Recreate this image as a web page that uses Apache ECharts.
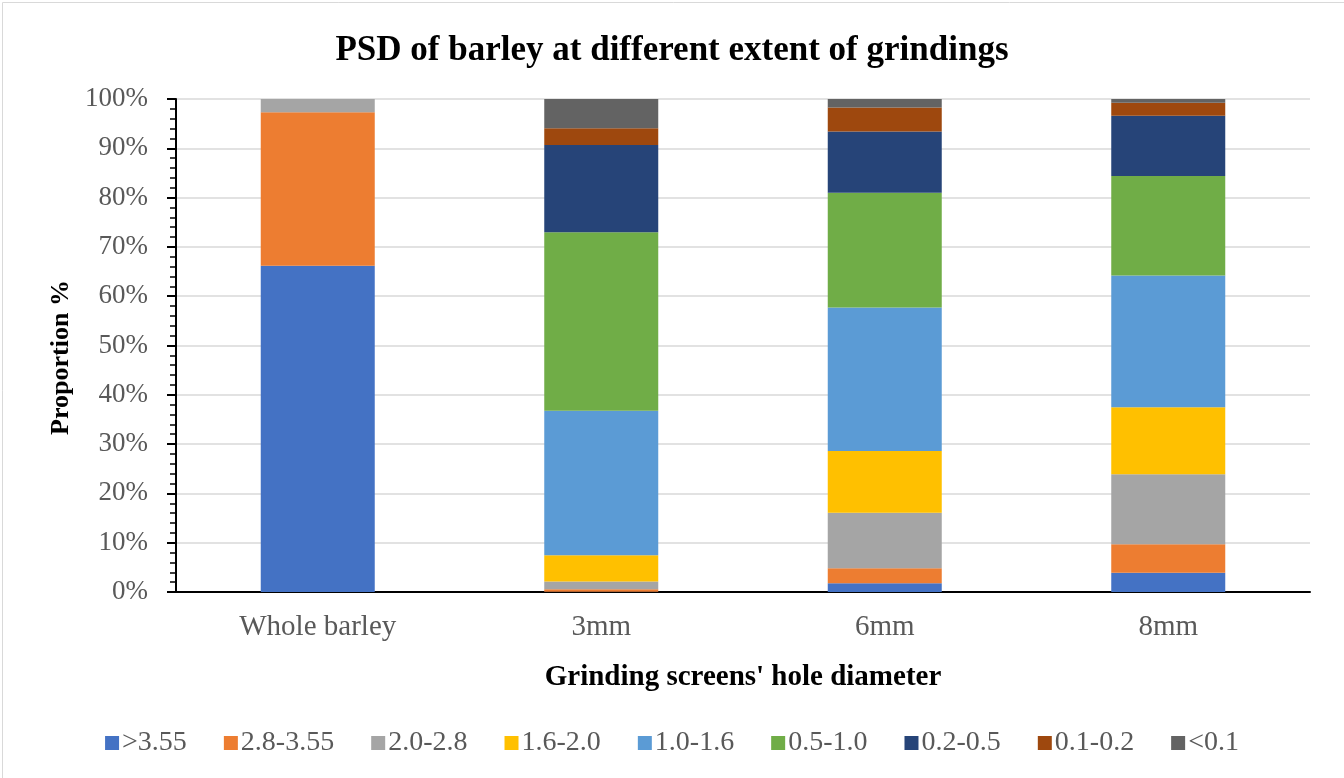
<!DOCTYPE html>
<html>
<head>
<meta charset="utf-8">
<script src="https://cdn.jsdelivr.net/npm/echarts@6/dist/echarts.min.js"></script>
<style>
html,body{margin:0;padding:0;background:#fff;}
#c{width:1344px;height:778px;}
</style>
</head>
<body>
<div id="c"></div>
<script>
const categories = ['Whole barley', '3mm', '6mm', '8mm'];
const seriesNames = ['>3.55', '2.8-3.55', '2.0-2.8', '1.6-2.0', '1.0-1.6', '0.5-1.0', '0.2-0.5', '0.1-0.2', '<0.1'];
const s_gt355   = [66.2, 0.05, 1.76, 3.9];
const s_28_355  = [31.1, 0.5, 3.04, 5.8];
const s_20_28   = [2.7, 1.6, 11.3, 14.2];
const s_16_20   = [0, 5.3, 12.5, 13.6];
const s_10_16   = [0, 29.3, 29.1, 26.7];
const s_05_10   = [0, 36.2, 23.3, 20.2];
const s_02_05   = [0, 17.7, 12.4, 12.2];
const s_01_02   = [0, 3.4, 4.9, 2.65];
const s_lt01    = [0, 5.95, 1.7, 0.75];
const yTicks = [0, 10, 20, 30, 40, 50, 60, 70, 80, 90, 100];

const colors = ['#4472C4', '#ED7D31', '#A5A5A5', '#FFC000', '#5B9BD5', '#70AD47', '#264478', '#9E480E', '#636363'];
const values = [s_gt355, s_28_355, s_20_28, s_16_20, s_10_16, s_05_10, s_02_05, s_01_02, s_lt01];
const font = '"Liberation Serif", "Times New Roman", serif';

const chart = echarts.init(document.getElementById('c'), null, {renderer: 'canvas'});
chart.setOption({
  animation: false,
  color: colors,
  graphic: [{
    type: 'rect', left: 0, top: 0,
    shape: {x: 0.5, y: 0.5, width: 1343, height: 777},
    style: {fill: 'none', stroke: '#d9d9d9', lineWidth: 1}
  }],
  title: {
    text: 'PSD of barley at different extent of grindings',
    left: 'center', top: 28,
    textStyle: {fontFamily: font, fontWeight: 'bold', fontSize: 35, color: '#000'}
  },
  legend: {
    bottom: 16, left: 'center',
    itemWidth: 14, itemHeight: 14, itemGap: 37,
    icon: 'rect',
    textStyle: {fontFamily: font, fontSize: 28, color: '#595959', padding: [0, 0, 0, -2]},
    data: seriesNames
  },
  grid: {left: 176, right: 34, top: 99, bottom: 186},
  xAxis: {
    type: 'category',
    data: categories,
    name: "Grinding screens' hole diameter",
    nameLocation: 'middle', nameGap: 71,
    nameTextStyle: {fontFamily: font, fontWeight: 'bold', fontSize: 29, color: '#000'},
    axisLine: {lineStyle: {color: '#000', width: 2}},
    axisTick: {show: false},
    axisLabel: {fontFamily: font, fontSize: 29, color: '#595959', margin: 21}
  },
  yAxis: {
    type: 'value', min: yTicks[0], max: yTicks[yTicks.length - 1], interval: 10,
    name: 'Proportion %',
    nameLocation: 'middle', nameGap: 101,
    nameTextStyle: {fontFamily: font, fontWeight: 'bold', fontSize: 26, color: '#000', padding: [0, 24, 0, 0]},
    axisLine: {show: true, lineStyle: {color: '#000', width: 2}},
    axisTick: {show: true, length: 9, lineStyle: {color: '#000', width: 2}},
    minorTick: {show: true, splitNumber: 5, length: 6, lineStyle: {color: '#000', width: 1.5}},
    axisLabel: {fontFamily: font, fontSize: 27, color: '#595959', margin: 28, formatter: '{value}%'},
    splitLine: {show: true, lineStyle: {color: '#d9d9d9', width: 1.5}}
  },
  series: seriesNames.map((n, i) => ({
    name: n, type: 'bar', stack: 'total',
    barWidth: 114,
    data: values[i],
    itemStyle: {color: colors[i]}
  }))
});
</script>
</body>
</html>
